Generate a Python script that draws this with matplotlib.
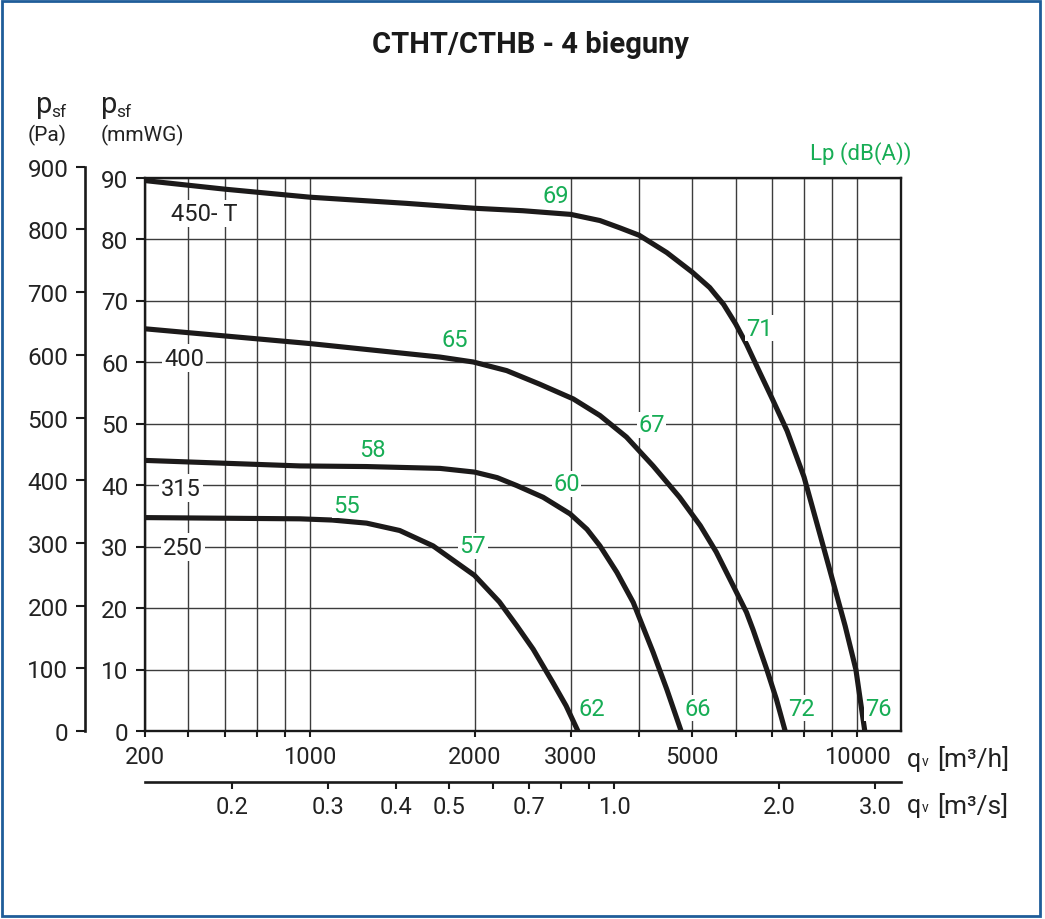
import matplotlib
matplotlib.use("Agg")
import matplotlib.pyplot as plt
from matplotlib.patches import Rectangle
from matplotlib.ticker import FixedLocator, NullFormatter, FixedFormatter

plt.rcParams['font.family'] = ['Roboto', 'DejaVu Sans']

# ---------------- data ----------------
# fan curves: flow q [m3/h], static pressure p [mmWG]
q_450T = [500, 700, 1000, 1500, 1730, 2000, 2450, 3000, 3390, 3690, 4000, 4490, 5000, 5380,
          5530, 5700, 6000, 6280, 6640, 7000, 7450, 8000, 8670, 9510, 9950, 10130, 10330]
p_450T = [89.5, 88.1, 86.8, 85.8, 85.4, 85.0, 84.6, 84.0, 83.0, 81.8, 80.6, 77.8, 74.6, 72.1,
          70.8, 69.4, 66.2, 62.9, 58.3, 54.0, 48.8, 41.3, 30.1, 17.1, 10.0, 5.2, 0.0]

q_400 = [500, 1000, 1730, 1990, 2290, 2630, 3030, 3390, 3790, 4240, 4740, 5170, 5530,
         5940, 6280, 6460, 6840, 7120, 7390]
p_400 = [65.4, 63.0, 60.8, 60.0, 58.6, 56.4, 54.0, 51.3, 47.8, 43.1, 38.0, 33.4, 29.1,
         23.6, 19.3, 16.4, 10.0, 5.2, 0.0]

q_315 = [500, 960, 1270, 1730, 2000, 2200, 2390, 2670, 2990, 3210, 3390, 3640, 3900,
         4240, 4490, 4770]
p_315 = [44.0, 43.1, 43.0, 42.7, 42.1, 41.2, 39.9, 38.0, 35.3, 32.8, 30.1, 25.8, 20.9,
         12.8, 6.8, 0.0]

q_250 = [500, 960, 1100, 1270, 1460, 1680, 1800, 2000, 2220, 2390, 2560, 2780, 2940, 3090]
p_250 = [34.7, 34.5, 34.3, 33.8, 32.6, 30.1, 28.2, 25.3, 21.0, 17.1, 13.3, 7.9, 4.1, 0.0]

curves = [(q_450T, p_450T), (q_400, p_400), (q_315, p_315), (q_250, p_250)]

# fan size labels (text, q, p)
size_labels = ["450- T", "400", "315", "250"]
size_q = [641, 589, 582, 587]
size_p = [84.2, 60.65, 39.5, 29.9]

# noise levels Lp dB(A)
lp_labels = ["69", "71", "65", "67", "58", "60", "55", "57", "62", "66", "72", "76"]
lp_q = [2814, 6635, 1840, 4215, 1304, 2948, 1169, 1986, 3274, 5112, 7917, 10941]
lp_p = [87.0, 65.5, 63.6, 49.8, 45.7, 40.2, 36.7, 30.1, 3.7, 3.7, 3.7, 3.7]

# axes ticks
x_major = [500, 1000, 2000, 3000, 5000, 10000]
x_major_labels = ["200", "1000", "2000", "3000", "5000", "10000"]
x_minor = [600, 700, 800, 900, 4000, 6000, 7000, 8000, 9000]
x_lim = (500, 12030)

s_major = [0.2, 0.3, 0.4, 0.5, 0.7, 1.0, 2.0, 3.0]
s_major_labels = ["0.2", "0.3", "0.4", "0.5", "0.7", "1.0", "2.0", "3.0"]
s_minor = [0.6, 0.8, 0.9]

mm_ticks = [0, 10, 20, 30, 40, 50, 60, 70, 80, 90]
pa_ticks = [0, 100, 200, 300, 400, 500, 600, 700, 800, 900]
MM_TO_PA = 9.81
H_PER_S = 3600.0

GREEN = "#17ad55"
TXT = "#222222"
CURVE = "#1c1a1a"
FW = "normal"

W, H = 1045, 920
fig = plt.figure(figsize=(W / 100, H / 100), dpi=100)


def fx(x):
    return x / W


def fy(y):
    return 1 - y / H


# frame border
fig.patches.append(Rectangle((fx(2), fy(917)), fx(1040) - fx(2), fy(2) - fy(917),
                             transform=fig.transFigure, fill=False,
                             edgecolor="#1f5d99", lw=2.0))

L, R, T, B = 145, 901, 178.5, 732
ax = fig.add_axes([fx(L), fy(B), (R - L) / W, (B - T) / H])
ax.set_xscale("log")
ax.set_xlim(*x_lim)
ax.set_ylim(0, 90)

for q, p in curves:
    ax.plot(q, p, color=CURVE, lw=3.7, solid_capstyle="butt", solid_joinstyle="round",
            zorder=3)

ax.xaxis.set_major_locator(FixedLocator(x_major))
ax.xaxis.set_major_formatter(FixedFormatter(x_major_labels))
ax.xaxis.set_minor_locator(FixedLocator(x_minor))
ax.xaxis.set_minor_formatter(NullFormatter())
ax.set_yticks(mm_ticks)
ax.set_yticklabels([str(v) for v in mm_ticks])

ax.grid(True, which="both", axis="x", color="#3c3c3c", lw=1.0, zorder=0.5)
ax.grid(True, which="major", axis="y", color="#3c3c3c", lw=1.0, zorder=0.5)
ax.set_axisbelow(True)

for s in ax.spines.values():
    s.set_linewidth(1.7)
    s.set_color("#1a1a1a")

ax.tick_params(axis="x", which="both", direction="out", length=4, width=1.5,
               colors="#1a1a1a", labelsize=17, labelcolor=TXT, pad=6)
ax.tick_params(axis="y", which="both", direction="out", length=6.5, width=1.5,
               colors="#1a1a1a", labelsize=17.5, labelcolor=TXT, pad=5.5)
for lab in ax.get_xticklabels() + ax.get_yticklabels():
    lab.set_fontweight(FW)

# size labels
for t, q, p in zip(size_labels, size_q, size_p):
    ax.text(q, p, t, ha="center", va="center", fontsize=17, color=TXT, fontweight=FW,
            zorder=4, bbox=dict(facecolor="white", edgecolor="none", pad=1.5))

# Lp labels
for t, q, p in zip(lp_labels, lp_q, lp_p):
    ax.text(q, p, t, ha="center", va="center", fontsize=17, color=GREEN, fontweight=FW,
            zorder=4, bbox=dict(facecolor="white", edgecolor="none", pad=1.0))

# Pa axis
pa_top = B - (B - T) * 900 / (90 * MM_TO_PA)
axp = fig.add_axes([fx(85), fy(B), 0.01, (B - pa_top) / H])
axp.set_ylim(0, 900)
axp.set_yticks(pa_ticks)
axp.set_yticklabels([str(v) for v in pa_ticks])
axp.patch.set_visible(False)
for k in ("top", "right", "bottom"):
    axp.spines[k].set_visible(False)
axp.spines["left"].set_linewidth(1.9)
axp.spines["left"].set_color("#1a1a1a")
axp.set_xticks([])
axp.tick_params(axis="y", direction="out", length=6.5, width=1.5, colors="#1a1a1a",
                labelsize=17.5, labelcolor=TXT, pad=5.5)
for lab in axp.get_yticklabels():
    lab.set_fontweight(FW)

# m3/s axis
axs = fig.add_axes([fx(L), fy(783), (R - L) / W, 0.001])
axs.set_xscale("log")
axs.set_xlim(x_lim[0] / H_PER_S, x_lim[1] / H_PER_S)
axs.patch.set_visible(False)
for k in ("top", "right", "left"):
    axs.spines[k].set_visible(False)
axs.spines["bottom"].set_linewidth(1.9)
axs.spines["bottom"].set_color("#1a1a1a")
axs.set_yticks([])
axs.xaxis.set_major_locator(FixedLocator(s_major))
axs.xaxis.set_major_formatter(FixedFormatter(s_major_labels))
axs.xaxis.set_minor_locator(FixedLocator(s_minor))
axs.xaxis.set_minor_formatter(NullFormatter())
axs.tick_params(axis="x", which="both", direction="out", length=5, width=1.5,
                colors="#1a1a1a", labelsize=17, labelcolor=TXT, pad=4.5)
for lab in axs.get_xticklabels():
    lab.set_fontweight(FW)

# title
fig.text(fx(531), fy(45), "CTHT/CTHB - 4 bieguny", ha="center", va="center",
         fontsize=21, fontweight="bold", color="#1a1a1a")

# y axis headers
for xp in (36, 101):
    fig.text(fx(xp), fy(113), "p", ha="left", va="baseline", fontsize=21,
             color=TXT, fontweight=FW)
    fig.text(fx(xp + 15), fy(117), "sf", ha="left", va="baseline", fontsize=12.5,
             color=TXT, fontweight=FW)
fig.text(fx(47), fy(135), "(Pa)", ha="center", va="center", fontsize=15,
         color=TXT, fontweight=FW)
fig.text(fx(101), fy(135), "(mmWG)", ha="left", va="center", fontsize=15,
         color=TXT, fontweight=FW)

# Lp header
fig.text(fx(912), fy(154), "Lp (dB(A))", ha="right", va="center", fontsize=16,
         color=GREEN, fontweight=FW)

# flow unit labels
for yp, unit in ((760, "[m³/h]"), (806, "[m³/s]")):
    fig.text(fx(907), fy(yp), "q", ha="left", va="center", fontsize=18, color=TXT,
             fontweight=FW)
    fig.text(fx(922), fy(yp + 2), "v", ha="left", va="center", fontsize=10, color=TXT,
             fontweight=FW)
    fig.text(fx(937), fy(yp), unit, ha="left", va="center", fontsize=19, color=TXT,
             fontweight=FW)

fig.savefig("out.png", dpi=100, facecolor="white")
